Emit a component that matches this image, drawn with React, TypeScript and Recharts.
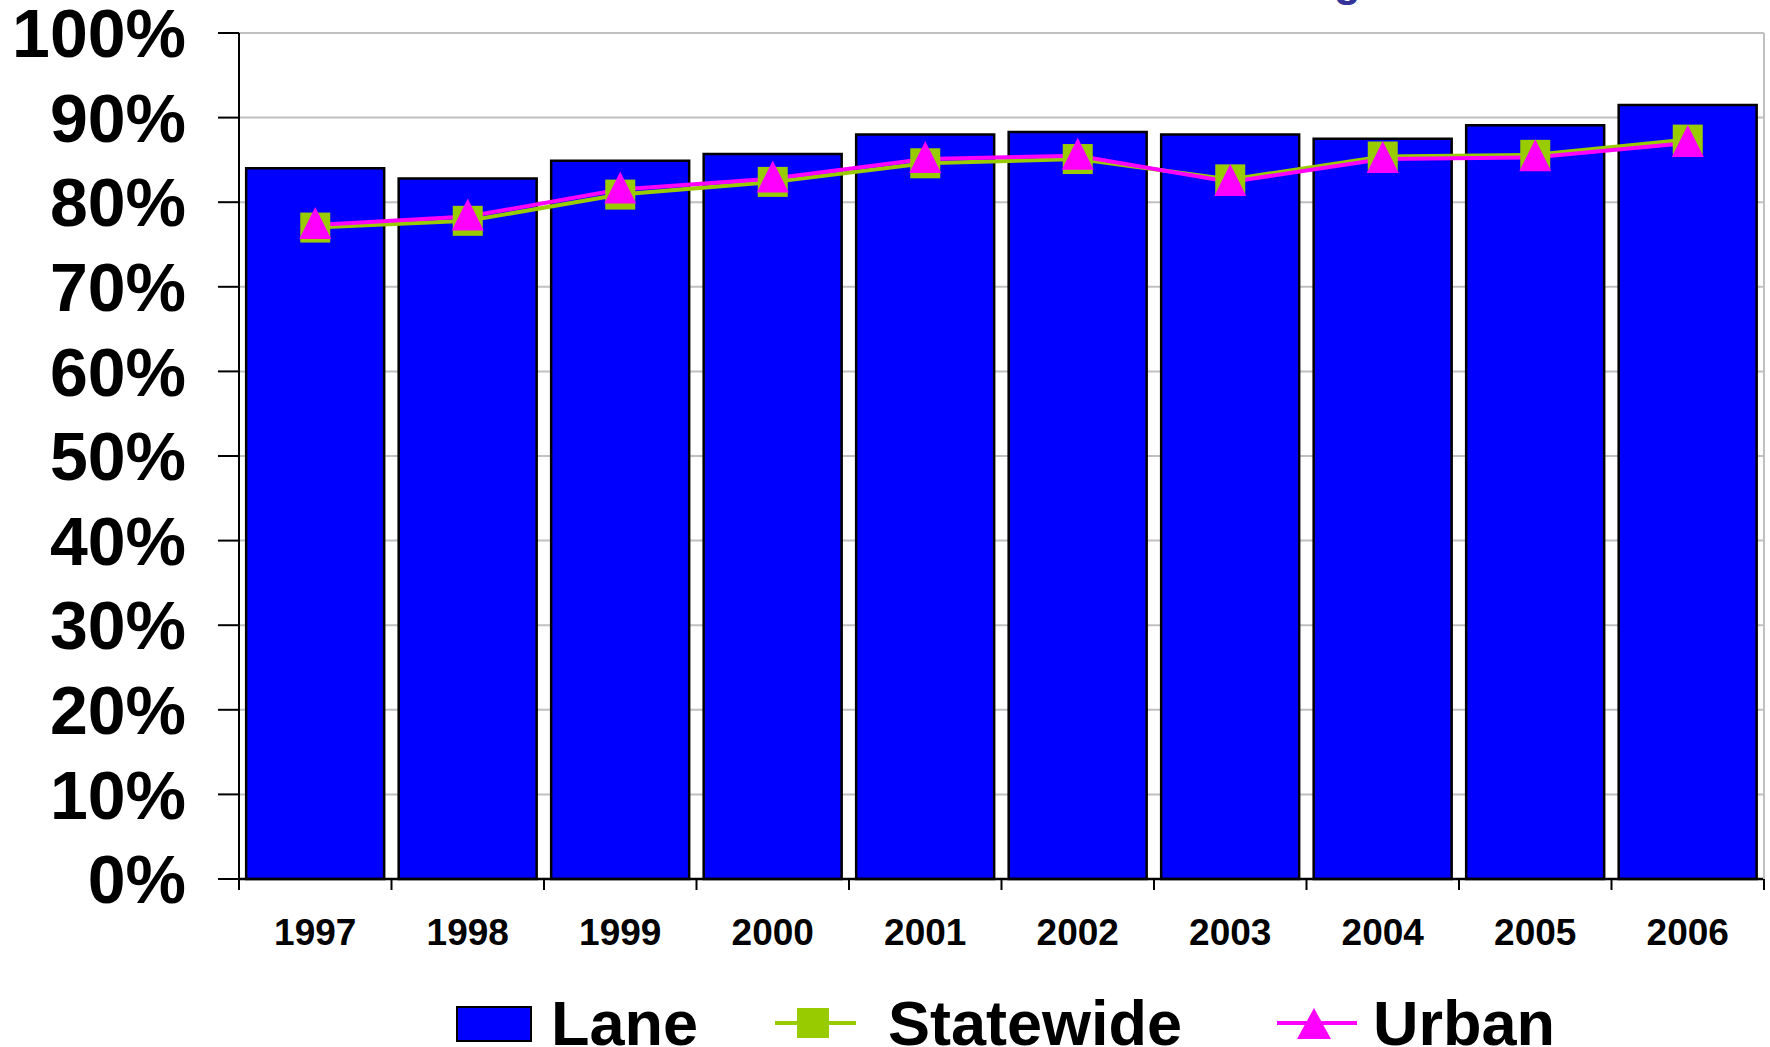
import React from 'react';
import {
  ComposedChart,
  Bar,
  Line,
  XAxis,
  YAxis,
  CartesianGrid,
  Legend
} from 'recharts';

// chart values (percent)
const years = ['1997', '1998', '1999', '2000', '2001', '2002', '2003', '2004', '2005', '2006'];
const lane = [84.0, 82.8, 84.9, 85.7, 88.0, 88.3, 88.0, 87.5, 89.1, 91.5];
const statewide = [77.0, 77.8, 80.9, 82.4, 84.6, 85.1, 82.7, 85.4, 85.6, 87.4];
const urban = [77.3, 78.3, 81.5, 82.8, 85.1, 85.5, 82.4, 85.1, 85.3, 87.0];
const yTicks = [0, 10, 20, 30, 40, 50, 60, 70, 80, 90, 100];

const W = 1770;
const H = 1047;
const PLOT_LEFT = 239;
const PLOT_RIGHT = 1764;
const PLOT_TOP = 33;
const PLOT_BOTTOM = 879;
const BAND = (PLOT_RIGHT - PLOT_LEFT) / years.length;
const FONT = '"Liberation Sans", Arial, sans-serif';

const data = years.map((year, i) => ({
  year,
  lane: lane[i],
  statewide: statewide[i],
  urban: urban[i]
}));

const SquareDot = (props: any) => {
  const { cx, cy } = props;
  if (cx == null || cy == null) return null;
  return <rect x={cx - 15} y={cy - 15} width={30} height={30} fill="#99CC00" />;
};

const TriangleDot = (props: any) => {
  const { cx, cy } = props;
  if (cx == null || cy == null) return null;
  return (
    <polygon
      points={`${cx},${cy - 18} ${cx + 16},${cy + 14} ${cx - 16},${cy + 14}`}
      fill="#FF00FF"
    />
  );
};

const XTick = (props: any) => {
  const { x, payload, index } = props;
  const half = BAND / 2;
  return (
    <g>
      <line x1={x - half} x2={x - half} y1={PLOT_BOTTOM} y2={PLOT_BOTTOM + 11} stroke="#000" strokeWidth={2} />
      {index === years.length - 1 && (
        <line x1={x + half} x2={x + half} y1={PLOT_BOTTOM} y2={PLOT_BOTTOM + 11} stroke="#000" strokeWidth={2} />
      )}
      <text
        x={x}
        y={PLOT_BOTTOM + 66}
        textAnchor="middle"
        fontSize={37}
        fontWeight={700}
        fontFamily={FONT}
        fill="#000"
      >
        {payload.value}
      </text>
    </g>
  );
};

const LegendContent = () => {
  const textStyle = { fontSize: 63, fontWeight: 700, fontFamily: FONT, fill: '#000' };
  return (
    <svg width={W} height={72} style={{ overflow: 'visible', display: 'block' }}>
      {/* Lane */}
      <rect x={457} y={30} width={74} height={34} fill="#0000FF" stroke="#000" strokeWidth={2} />
      <text x={551} y={68} {...textStyle}>Lane</text>
      {/* Statewide */}
      <line x1={775} x2={856} y1={46} y2={46} stroke="#99CC00" strokeWidth={4} />
      <rect x={797} y={31} width={32} height={30} fill="#99CC00" />
      <text x={888} y={68} {...textStyle}>Statewide</text>
      {/* Urban */}
      <line x1={1277} x2={1357} y1={46} y2={46} stroke="#FF00FF" strokeWidth={4} />
      <polygon points="1314,31 1331,62 1297,62" fill="#FF00FF" />
      <text x={1373} y={68} {...textStyle}>Urban</text>
    </svg>
  );
};

export default function App() {
  return (
    <div style={{ position: 'absolute', left: 0, top: 0, width: W, height: H, overflow: 'hidden', background: '#fff' }}>
      <ComposedChart
        width={W}
        height={H}
        data={data}
        margin={{ top: PLOT_TOP, right: 0, left: 0, bottom: H - PLOT_BOTTOM - 80 }}
        barCategoryGap="4.7%"
      >
        <CartesianGrid yAxisId="left" vertical={false} stroke="#c0c0c0" strokeWidth={2} />
        <XAxis
          dataKey="year"
          interval={0}
          height={80}
          tickLine={false}
          axisLine={{ stroke: '#000', strokeWidth: 2.5 }}
          tick={<XTick />}
        />
        <YAxis
          yAxisId="left"
          width={PLOT_LEFT}
          domain={[0, 100]}
          ticks={yTicks}
          interval={0}
          tickFormatter={(v: number) => `${v}%`}
          tickSize={21}
          tickMargin={32}
          tickLine={{ stroke: '#000', strokeWidth: 2 }}
          axisLine={{ stroke: '#000', strokeWidth: 2 }}
          tick={{ fontSize: 68, fontWeight: 700, fill: '#000', fontFamily: FONT }}
        />
        <YAxis
          yAxisId="right"
          orientation="right"
          width={W - PLOT_RIGHT}
          domain={[0, 100]}
          tick={false}
          tickLine={false}
          axisLine={{ stroke: '#c0c0c0', strokeWidth: 2 }}
        />
        <Legend
          layout="horizontal"
          verticalAlign="middle"
          align="center"
          content={<LegendContent />}
          wrapperStyle={{ top: 977, left: 0, width: W, height: 72 }}
        />
        <Bar
          yAxisId="left"
          dataKey="lane"
          name="Lane"
          fill="#0000FF"
          stroke="#000"
          strokeWidth={2.5}
          isAnimationActive={false}
        />
        <Line
          yAxisId="left"
          dataKey="statewide"
          name="Statewide"
          stroke="#99CC00"
          strokeWidth={4}
          dot={<SquareDot />}
          activeDot={false}
          isAnimationActive={false}
        />
        <Line
          yAxisId="left"
          dataKey="urban"
          name="Urban"
          stroke="#FF00FF"
          strokeWidth={4}
          dot={<TriangleDot />}
          activeDot={false}
          isAnimationActive={false}
        />
      </ComposedChart>
      {/* clipped title above the plot: only the descender shows */}
      <svg width={W} height={20} style={{ position: 'absolute', left: 0, top: 0, pointerEvents: 'none' }}>
        <text x={1334} y={-4} fontSize={44} fontWeight={700} fontFamily={FONT} fill="#333399">g</text>
      </svg>
    </div>
  );
}
